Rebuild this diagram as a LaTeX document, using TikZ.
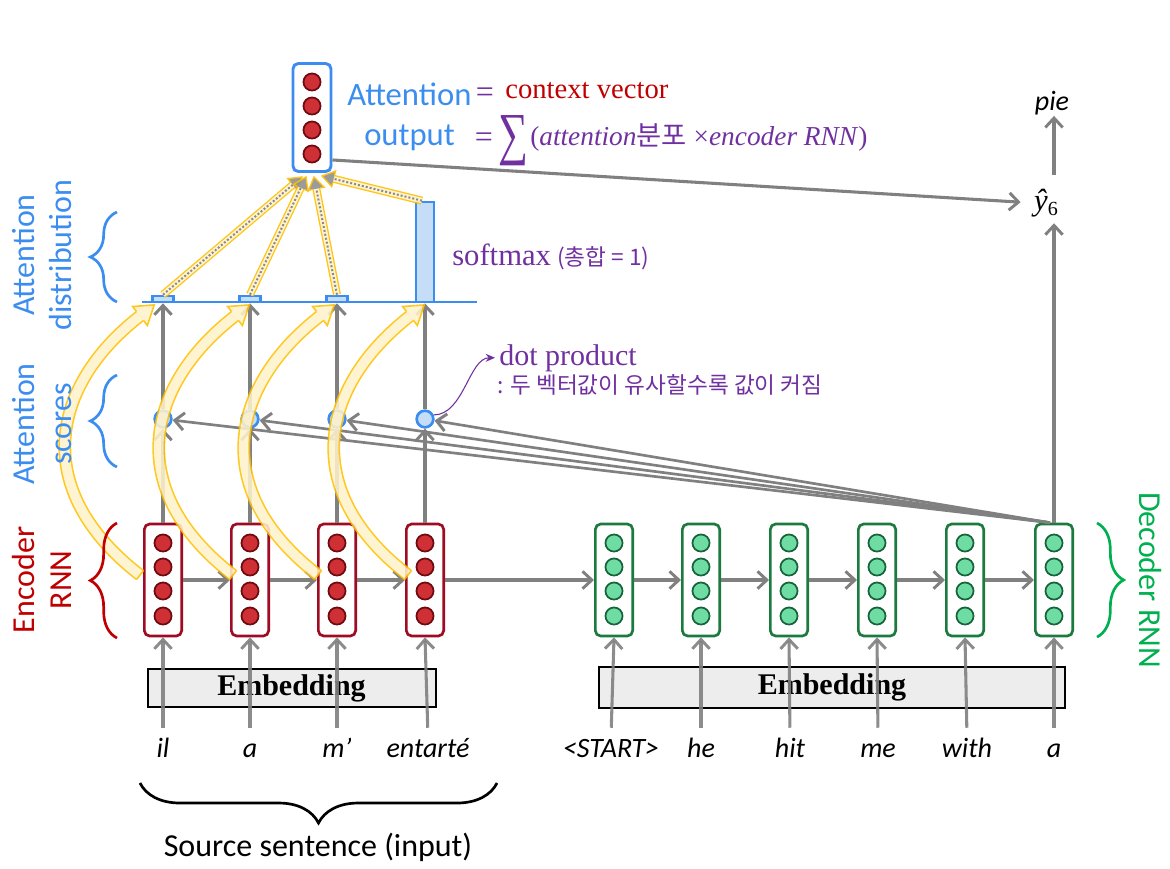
\documentclass[tikz,border=0pt]{standalone}
\usepackage{fontspec}
\setmainfont{Liberation Serif}
\setsansfont{Carlito}
\newfontfamily\kr{Noto Sans CJK KR}
\usetikzlibrary{arrows.meta,decorations.pathreplacing,calc}
\definecolor{garrow}{HTML}{808080}
\definecolor{ablue}{HTML}{3C8DF0}
\definecolor{lblue}{HTML}{C6DDF8}
\definecolor{encb}{HTML}{9E0B22}
\definecolor{encf}{HTML}{CF3035}
\definecolor{encd}{HTML}{6E0A10}
\definecolor{decb}{HTML}{1B7A3E}
\definecolor{decf}{HTML}{6FDCA3}
\definecolor{decd}{HTML}{17633A}
\definecolor{lred}{HTML}{C00000}
\definecolor{lgreen}{HTML}{00B050}
\definecolor{purp}{HTML}{7030A0}
\definecolor{yor}{HTML}{FFC000}
\definecolor{ylt}{HTML}{FFF2CC}
\definecolor{embg}{HTML}{EDEDED}
\newcommand{\ycurve}[2]{%
 \begin{scope}[transparency group, opacity=0.88]
 \draw[yor, line width=1.2pt, double=ylt, double distance=7.2pt] (#1,575) .. controls (#1-110,490) and (#2-90,386) .. (#2,316);
 \fill[ylt] ($(#2,316)+(52:12)$) -- ($(#2,316)+(-38:18)$) -- ($(#2,316)+(-128:12)$) -- cycle;
 \draw[yor, line width=1.2pt, line join=miter] ($(#2,316)+(52:5.6)$) -- ($(#2,316)+(52:12)$) -- ($(#2,316)+(-38:18)$) -- ($(#2,316)+(-128:12)$) -- ($(#2,316)+(-128:5.6)$);
 \draw[yor, line width=1.2pt] ($(#1,575)+(-52:5.6)$) -- ($(#1,575)+(128:5.6)$);
 \end{scope}}
\newcommand{\ystraight}[2]{%
 \begin{scope}[transparency group, opacity=0.92]
 \coordinate (yB) at ($(#2)!9pt!(#1)$);
 \draw[yor, line width=1pt, double=ylt, double distance=4pt] (#1) -- (yB);
 \draw[garrow, line width=1.5pt, dash pattern=on 1.5pt off 1.5pt] (#1) -- (yB);
 \fill[garrow!85] ($(yB)!6pt!90:(#2)$) -- (#2) -- ($(yB)!6pt!-90:(#2)$) -- cycle;
 \draw[yor, line width=1pt] ($(yB)!3pt!90:(#2)$) -- ($(yB)!6pt!90:(#2)$) -- (#2) -- ($(yB)!6pt!-90:(#2)$) -- ($(yB)!3pt!-90:(#2)$);
 \end{scope}}
\begin{document}
\begin{tikzpicture}[x=0.75pt,y=-0.75pt,
 garr/.style={draw=garrow, line width=2.3pt, -{Straight Barb[length=7pt,width=13pt,line width=2.2pt]}},
 enc/.style={draw=encb, line width=2pt, fill=white, rounded corners=4pt, minimum width=28pt, minimum height=84pt, inner sep=0pt},
 dec/.style={enc, draw=decb},
 encc/.style={fill=encf, draw=encd, line width=1.3pt},
 decc/.style={fill=decf, draw=decd, line width=1.3pt},
 score/.style={circle, draw=ablue, fill=lblue, line width=2pt, minimum size=12.5pt, inner sep=0pt},
 bar/.style={draw=ablue, fill=lblue, line width=2pt, inner sep=0pt},
 word/.style={font=\sffamily\itshape\fontsize{21}{25}\selectfont, inner sep=0pt, text height=15pt, text depth=4pt},
 embbox/.style={draw=black, line width=1.5pt, fill=embg, inner sep=0pt, font=\bfseries\fontsize{22.5}{26}\selectfont},
 sidelbl/.style={font=\sffamily\fontsize{24}{28}\selectfont, align=center, inner sep=0pt},
 brc/.style={decorate, decoration={brace, amplitude=20pt}, line width=2pt},
 txt/.style={anchor=base west, inner sep=0pt},
]
\useasboundingbox (0,0) rectangle (1170,868);

% embedding boxes
\node[embbox, minimum width=216pt, minimum height=29pt] (emb1) at (291.5,688) {Embedding};
\node[embbox, minimum width=349pt, minimum height=31pt] (emb2) at (832,687.5) {Embedding};

% encoder / decoder cells
\foreach \n/\x in {e1/163,e2/250,e3/337,e4/425}{
  \node[enc] (\n) at (\x,580) {};
  \foreach \y in {543,567,591,616}{\draw[encc] (\x,\y) circle[radius=6.4pt];}
}
\foreach \n/\x in {d1/614,d2/701,d3/789,d4/877,d5/965,d6/1054}{
  \node[dec] (\n) at (\x,580) {};
  \foreach \y in {543,567,591,616}{\draw[decc] (\x,\y) circle[radius=6.4pt];}
}

% words
\foreach \n/\x/\t in {w1/163/il,w2/250/a,w3/337/m’,w4/428/entarté,w5/611/<START>,w6/701/he,w7/790/hit,w8/878/me,w9/967/with,w10/1054/a}{
  \node[word] (\n) at (\x,750) {\t};
}

% input arrows
\foreach \w/\e in {w1/e1,w2/e2,w3/e3,w4/e4,w5/d1,w6/d2,w7/d3,w8/d4,w9/d5,w10/d6}{
  \draw[garr, shorten <=7pt, draw opacity=0.9] (\w.north) -- (\e.south);
}

% recurrent arrows
\draw[garr] (e1.east) -- (e2.west);
\draw[garr] (e2.east) -- (e3.west);
\draw[garr] (e3.east) -- (e4.west);
\draw[garr] (e4.east) -- (d1.west);
\draw[garr] (d1.east) -- (d2.west);
\draw[garr] (d2.east) -- (d3.west);
\draw[garr] (d3.east) -- (d4.west);
\draw[garr] (d4.east) -- (d5.west);
\draw[garr] (d5.east) -- (d6.west);

% attention distribution
\draw[ablue, line width=2pt] (142,302) -- (477,302);
\node[bar, minimum width=16pt, minimum height=4.5pt] (b1) at (163,299) {};
\node[bar, minimum width=16pt, minimum height=4.5pt] (b2) at (250,299) {};
\node[bar, minimum width=16pt, minimum height=4.5pt] (b3) at (337,299) {};
\node[bar, minimum width=13.5pt, minimum height=75pt] (b4) at (425,252) {};

% scores
\node[score] (s1) at (163,419) {};
\node[score] (s2) at (250,419) {};
\node[score] (s3) at (337,419) {};
\node[score] (s4) at (425,419) {};

\foreach \i in {1,2,3,4}{
  \draw[garr] (e\i.north) -- (s\i.south);
  \draw[garr] (s\i.north) -- (b\i.south);
}

% decoder hidden state to scores
\coordinate (dtop) at ($(d6.north)+(-4,0)$);
\foreach \i in {1,2,3,4}{\draw[garr, line width=2pt] (dtop) -- (s\i);}

% attention output
\node[draw=ablue, line width=2.2pt, fill=white, rounded corners=4pt, minimum width=28.5pt, minimum height=81pt, inner sep=0pt] (ao) at (312,117.5) {};
\foreach \y in {82,106,130,154}{\draw[encc] (312,\y) circle[radius=6.4pt];}

% output side
\node[font=\fontsize{23}{27}\selectfont, inner sep=0pt] (yh) at (1046,203) {\textit{ŷ}{\fontsize{15}{15}\selectfont\raisebox{-4pt}{6}}};
\node[word] (pie) at (1052,103) {pie};
\draw[garr] (d6.north) -- ($(d6.north |- yh.south)+(0,6)$);
\draw[garr, shorten <=10pt] (d6.north |- yh.north) -- (d6.north |- pie.south);
\draw[garr, shorten >=10pt] ($(ao.south east)+(0,-13)$) -- (yh.west);

% yellow curved arrows
\ycurve{140}{140}
\ycurve{233}{235}
\ycurve{318}{320}
\ycurve{408}{410}

% yellow straight arrows
\coordinate (t1) at ($(ao.south)+(-10,4)$);
\coordinate (t2) at ($(ao.south)+(-6,4)$);
\coordinate (t3) at ($(ao.south)+(2,4)$);
\coordinate (t4) at ($(ao.south)+(10,3)$);
\coordinate (o4) at ($(b4.north)+(-3,0)$);
\ystraight{b1.north}{t1}
\ystraight{b2.north}{t2}
\ystraight{b3.north}{t3}
\ystraight{o4}{t4}

% top texts
\node[txt, text=ablue, font=\sffamily\fontsize{24.5}{28}\selectfont] (at1) at (347,105) {Attention};
\node[txt, text=ablue, font=\sffamily\fontsize{24.5}{28}\selectfont] (at2) at (364,145) {output};
\node[anchor=base, inner sep=0pt, text=purp, font=\fontsize{24}{28}\selectfont] (eq1) at (485,102) {=};
\node[txt, text=lred, font=\fontsize{21.5}{26}\selectfont] (cv) at (505,98) {context vector};
\node[anchor=base, inner sep=0pt, text=purp, font=\fontsize{24}{28}\selectfont] (eq2) at (484,147) {=};
\node[anchor=base, inner sep=0pt, text=purp, font=\fontsize{30}{30}\selectfont] (sig) at (513,153) {\scalebox{1.05}[1.45]{∑}};
\node[txt, text=purp, font=\fontsize{20.5}{24}\selectfont] (frm) at (530,145) {(\textit{attention}{\kr 분포} ×\textit{encoder RNN})};

% softmax / dot product
\node[txt, text=purp, font=\fontsize{23}{26}\selectfont] (sm) at (452,265) {softmax};
\node[txt, text=purp, font=\kr\fontsize{17}{20}\selectfont] (smk) at (557,265) {(총합 = 1)};
\node[txt, text=purp, font=\fontsize{22.5}{26}\selectfont] (dp) at (499,365) {dot product};
\node[txt, text=purp, font=\kr\fontsize{17}{20}\selectfont] (dpk) at (497,393) {: 두 벡터값이 유사할수록 값이 커짐};
\draw[purp, line width=0.8pt, shorten >=3pt, -{Stealth[length=7pt,width=6pt]}] (s4.25) .. controls +(30,0) and +(-30,0) .. (dp.west);

% side labels and braces
\node[sidelbl, text=ablue, rotate=90] (lad) at (42,255) {Attention\\distribution};
\node[sidelbl, text=ablue, rotate=90] (las) at (42,424) {Attention\\scores};
\node[sidelbl, text=lred, rotate=90] (ler) at (42,580) {Encoder\\RNN};
\node[sidelbl, text=lgreen, rotate=-90] (ldr) at (1150,580) {Decoder RNN};
\draw[brc, draw=ablue] (117,302) -- (117,212);
\draw[brc, draw=ablue] (117,467) -- (117,375);
\draw[brc, draw=lred] (117,638) -- (117,523);
\draw[brc, draw=lgreen] (1097,523) -- (1097,637);

% source sentence brace
\draw[decorate, decoration={brace, amplitude=30pt}, line width=2pt] (497,783) -- (140,783);
\node[inner sep=0pt, font=\sffamily\fontsize{24}{28}\selectfont] (src) at (318,847) {Source sentence (input)};
\end{tikzpicture}
\end{document}
